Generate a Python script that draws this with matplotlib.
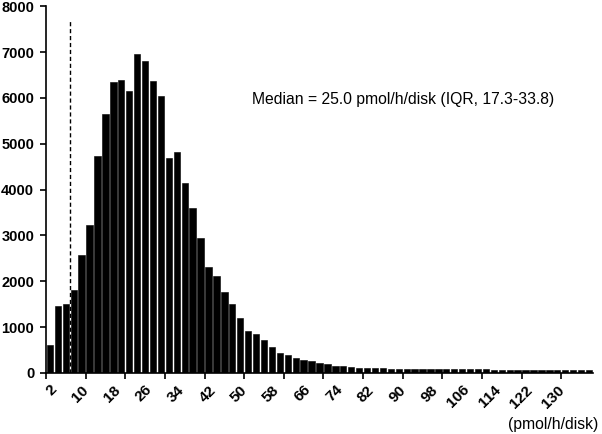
import matplotlib
matplotlib.use("Agg")
import matplotlib.pyplot as plt
import numpy as np

#------------------------------------------------------------------------------
# Data: counts per 2 pmol/h/disk bin (bin centres 2, 4, ..., 138)
bin_centres = np.arange(2, 140, 2)
counts = [
    600, 1470, 1500, 1800, 2570, 3220, 4730, 5660, 6340, 6400,
    6150, 6950, 6810, 6360, 6050, 4700, 4810, 4150, 3600, 2940,
    2320, 2110, 1760, 1510, 1210, 910, 845, 715, 570, 445,
    400, 320, 280, 265, 228, 185, 155, 150, 130, 115,
    110, 100, 98, 95, 92, 90, 88, 86, 85, 84,
    82, 80, 80, 78, 78, 76, 75, 74, 74, 72,
    72, 70, 70, 70, 68, 68, 68, 66, 66,
]
x_labels = np.arange(2, 131, 8)
y_ticks = np.arange(0, 8001, 1000)
cutoff = 7
annotation = "Median = 25.0 pmol/h/disk (IQR, 17.3-33.8)"
unit_label = "(pmol/h/disk)"


#------------------------------------------------------------------------------
# Plot
fig = plt.figure(figsize=(6.02, 4.34), dpi=100)
ax = fig.add_axes([0.0764, 0.1406, 0.9086, 0.845])

ax.bar(bin_centres, counts, width=1.6, color="black", edgecolor="black",
       linewidth=0.4)
ax.plot([cutoff, cutoff], [0, 7700], color="black", linestyle="--",
        linewidth=1.0, dashes=(3, 2))

ax.set_xlim(1, 139)
ax.set_ylim(0, 8000)

ax.spines["top"].set_visible(False)
ax.spines["right"].set_visible(False)
ax.spines["left"].set_linewidth(1.2)
ax.spines["bottom"].set_linewidth(1.2)

ax.set_yticks(y_ticks)
ax.set_yticklabels([str(v) for v in y_ticks], fontsize=10.5,
                   fontweight="bold", family="Liberation Sans")
ax.tick_params(axis="y", direction="out", length=4, width=1.2, pad=4.5)

# labels every 4 bins, tick marks every 5 bins
ax.set_xticks(x_labels)
ax.set_xticklabels([str(v) for v in x_labels], rotation=45, ha="right",
                   va="top", rotation_mode="anchor", fontsize=11,
                   fontweight="bold", family="Liberation Sans")
ax.tick_params(axis="x", which="major", length=0, pad=7)
ax.set_xticks(np.arange(1, 139, 10), minor=True)
ax.tick_params(axis="x", which="minor", direction="out", length=4, width=1.2)

ax.text(0.377, 0.745, annotation, transform=ax.transAxes, fontsize=11.3,
        family="Liberation Sans", va="center", ha="left")
fig.text(0.993, 0.023, unit_label, fontsize=11.3, family="Liberation Sans",
         ha="right", va="center")

fig.savefig("out.png", dpi=100)
